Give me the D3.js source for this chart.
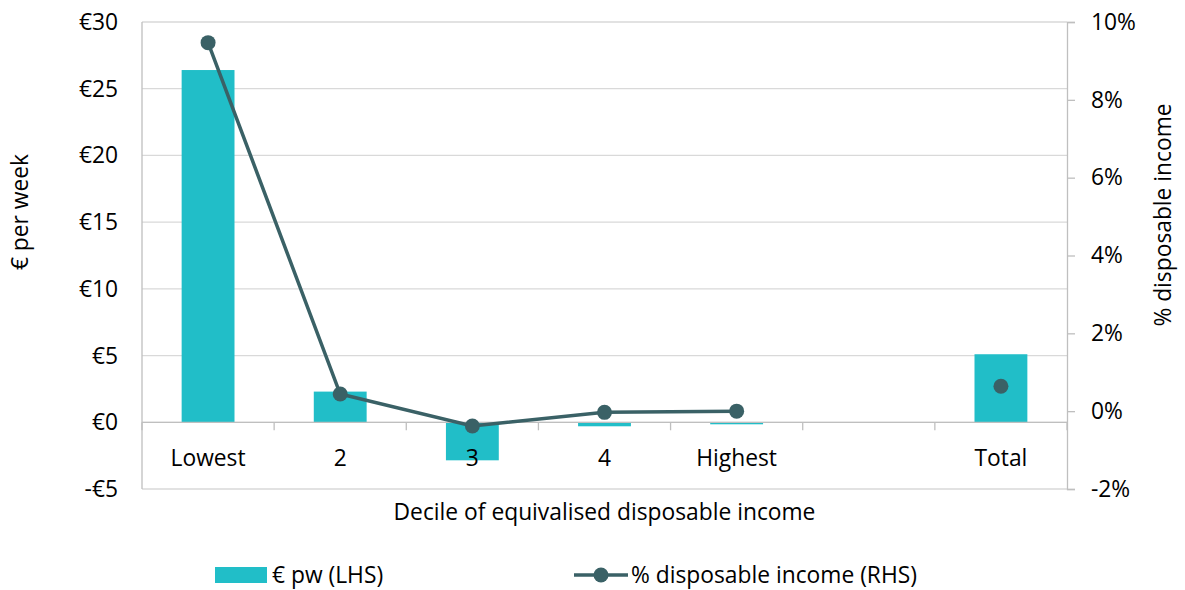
<!DOCTYPE html>
<html>
<head>
<meta charset="utf-8">
<script src="https://cdn.jsdelivr.net/npm/d3@7"></script>
<style>
  body { margin: 0; background: #fff; }
  svg { font-family: "Open Sans", Lato, sans-serif; }
</style>
</head>
<body>
<svg id="chart" width="1185" height="590"></svg>
<script>
// categories along the x axis (one blank slot before Total)
const categories = ['Lowest', '2', '3', '4', 'Highest', '', 'Total'];
// € per week (LHS)
const eurosPw = [26.4, 2.3, -2.85, -0.3, -0.15, null, 5.1];
// % of disposable income (RHS)
const pctIncome = [9.47, 0.44, -0.38, -0.03, 0.0, null, 0.64];

const leftTicks = [-5, 0, 5, 10, 15, 20, 25, 30];
const rightTicks = [-2, 0, 2, 4, 6, 8, 10];

const barColor = '#21bec8';
const lineColor = '#3a6166';
const gridColor = '#d9d9d9';
const axisColor = '#bfbfbf';
const fs = 22.8;

const svg = d3.select('#chart');
const m = { left: 142, right: 1067, top: 22, bottom: 489 };

const x = d3.scaleBand().domain(d3.range(categories.length))
  .range([m.left, m.right]).paddingInner(0.6).paddingOuter(0.3);
const xc = i => x(i) + x.bandwidth() / 2;
const yL = d3.scaleLinear().domain([-5, 30]).range([m.bottom, m.top]);
const yR = d3.scaleLinear().domain([-2, 10]).range([m.bottom, m.top]);

// gridlines
svg.append('g').selectAll('line').data(leftTicks).join('line')
  .attr('x1', m.left).attr('x2', m.right)
  .attr('y1', d => yL(d)).attr('y2', d => yL(d))
  .attr('stroke', gridColor).attr('stroke-width', 1.3);

// left axis line + labels
svg.append('line').attr('x1', m.left).attr('x2', m.left)
  .attr('y1', m.top).attr('y2', m.bottom).attr('stroke', axisColor).attr('stroke-width', 1.3);
svg.append('g').selectAll('text').data(leftTicks).join('text')
  .attr('x', 118).attr('y', d => yL(d)).attr('dy', '0.35em')
  .attr('text-anchor', 'end').attr('font-size', fs).attr('fill', '#000')
  .text(d => (d < 0 ? '-€' + Math.abs(d) : '€' + d));

// right axis
const rAxis = svg.append('g').attr('transform', `translate(${m.right},0)`)
  .call(d3.axisRight(yR).tickValues(rightTicks).tickSize(8).tickPadding(16).tickFormat(d => d + '%'));
rAxis.select('.domain').attr('stroke', axisColor).attr('stroke-width', 1.3);
rAxis.selectAll('.tick line').attr('stroke', axisColor).attr('stroke-width', 1.3);
rAxis.selectAll('text').attr('font-size', fs).attr('fill', '#000').attr('font-family', '"Open Sans", Lato, sans-serif');

// bars
svg.append('g').selectAll('rect').data(eurosPw.map((v, i) => ({ v, i })).filter(d => d.v !== null))
  .join('rect')
  .attr('x', d => x(d.i)).attr('width', x.bandwidth())
  .attr('y', d => yL(Math.max(0, d.v)))
  .attr('height', d => Math.abs(yL(d.v) - yL(0)))
  .attr('fill', barColor);

// category axis at zero
svg.append('line').attr('x1', m.left).attr('x2', m.right)
  .attr('y1', yL(0)).attr('y2', yL(0)).attr('stroke', axisColor).attr('stroke-width', 1.3);
svg.append('g').selectAll('line').data(d3.range(categories.length + 1)).join('line')
  .attr('x1', i => m.left + i * (m.right - m.left) / categories.length)
  .attr('x2', i => m.left + i * (m.right - m.left) / categories.length)
  .attr('y1', yL(0)).attr('y2', yL(0) + 8)
  .attr('stroke', axisColor).attr('stroke-width', 1.3);
svg.append('g').selectAll('text').data(categories).join('text')
  .attr('x', (d, i) => xc(i)).attr('y', yL(0) + 36).attr('dy', '0.35em')
  .attr('text-anchor', 'middle').attr('font-size', fs).attr('fill', '#000')
  .text(d => d);

// line (first five points connected), total as lone marker
const pts = pctIncome.map((v, i) => ({ v, i })).filter(d => d.v !== null);
const line = d3.line().x(d => xc(d.i)).y(d => yR(d.v));
svg.append('path').datum(pts.filter(d => d.i < 5))
  .attr('d', line).attr('fill', 'none').attr('stroke', lineColor).attr('stroke-width', 3.5);
svg.append('g').selectAll('circle').data(pts).join('circle')
  .attr('cx', d => xc(d.i)).attr('cy', d => yR(d.v)).attr('r', 7.5)
  .attr('fill', lineColor);

// axis titles
svg.append('text').attr('transform', `translate(20,212) rotate(-90)`)
  .attr('text-anchor', 'middle').attr('dy', '0.35em').attr('font-size', fs).text('€ per week');
svg.append('text').attr('transform', `translate(1163,215) rotate(-90)`)
  .attr('text-anchor', 'middle').attr('dy', '0.35em').attr('font-size', fs).text('% disposable income');
svg.append('text').attr('x', (m.left + m.right) / 2).attr('y', 512).attr('dy', '0.35em')
  .attr('text-anchor', 'middle').attr('font-size', fs).text('Decile of equivalised disposable income');

// legend
const lg = svg.append('g');
lg.append('rect').attr('x', 215).attr('y', 567).attr('width', 52).attr('height', 16).attr('fill', barColor);
lg.append('text').attr('x', 272).attr('y', 575).attr('dy', '0.35em').attr('font-size', fs).text('€ pw (LHS)');
lg.append('line').attr('x1', 574).attr('x2', 628).attr('y1', 575).attr('y2', 575)
  .attr('stroke', lineColor).attr('stroke-width', 3.5);
lg.append('circle').attr('cx', 601).attr('cy', 575).attr('r', 7.5).attr('fill', lineColor);
lg.append('text').attr('x', 631).attr('y', 575).attr('dy', '0.35em').attr('font-size', fs).text('% disposable income (RHS)');
</script>
</body>
</html>
